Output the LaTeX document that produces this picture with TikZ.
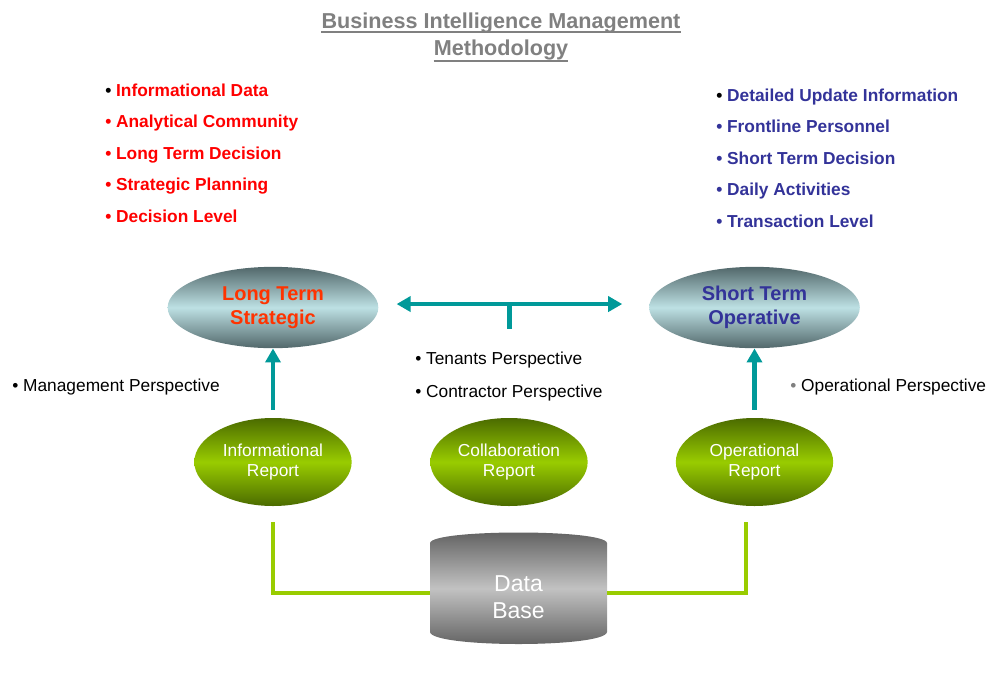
\documentclass[tikz,border=0pt]{standalone}
\usepackage{fontspec}
\setmainfont{Liberation Sans}
\usetikzlibrary{arrows.meta,shapes.geometric}
\definecolor{titlegray}{HTML}{808080}
\definecolor{stratred}{HTML}{FF0000}
\definecolor{goalred}{HTML}{FF3300}
\definecolor{opblue}{HTML}{333399}
\definecolor{linkteal}{HTML}{009999}
\definecolor{linkgreen}{HTML}{99CC00}
\definecolor{goaldark}{HTML}{52686B}
\definecolor{goallight}{HTML}{BDE0E3}
\definecolor{repdark}{HTML}{4B6B00}
\definecolor{replight}{HTML}{99CC00}
\definecolor{dbdark}{HTML}{5E5E5E}
\definecolor{dblight}{HTML}{C2C2C2}
\tikzset{tealtip/.tip={Triangle[length=10.5pt,width=11.25pt]}}
\begin{document}
\begin{tikzpicture}[x=0.75pt,y=-0.75pt,
  every node/.style={inner sep=0pt},
  heading/.style={font=\bfseries\fontsize{16.2}{19}\selectfont,text=titlegray,anchor=base},
  facts/.style={font=\bfseries\fontsize{13}{15}\selectfont,anchor=base west},
  persp/.style={font=\fontsize{13}{15}\selectfont,anchor=base west},
  goal/.style={ellipse,minimum width=158pt,minimum height=61pt,top color=goaldark,bottom color=goaldark,middle color=goallight,align=center,font=\bfseries\fontsize{15}{17.6}\selectfont},
  report/.style={ellipse,minimum width=118pt,minimum height=66pt,top color=repdark,bottom color=repdark,middle color=replight,align=center,text=white,font=\fontsize{13}{14.6}\selectfont},
  tealarrow/.style={draw=linkteal,line width=3.4pt,-tealtip},
  greenlink/.style={draw=linkgreen,line width=3.6pt}]
  \useasboundingbox (0,0) rectangle (993,697);
  % title
  \node[heading] (title1) at (501,28.5) {Business Intelligence Management};
  \node[heading] (title2) at (501,55) {Methodology};
  \draw[titlegray,line width=1.1pt] ([yshift=-2.6pt]title1.base west) -- ([yshift=-2.6pt]title1.base east);
  \draw[titlegray,line width=1.1pt] ([yshift=-4.5pt]title2.base west) -- ([yshift=-4.5pt]title2.base east);
  % strategic facts
  \node[facts,text=stratred] (fact1) at (105,96) {\textcolor{black}{\textbullet} Informational Data};
  \foreach \txt [count=\i from 2] in {Analytical Community,Long Term Decision,Strategic Planning,Decision Level}
    \node[facts,text=stratred] (fact\i) at (105,{96+31.5*(\i-1)}) {\textbullet\ \txt};
  % operative facts
  \node[facts,text=opblue] (opfact1) at (716,101) {\textcolor{black}{\textbullet} Detailed Update Information};
  \foreach \txt [count=\i from 2] in {Frontline Personnel,Short Term Decision,Daily Activities,Transaction Level}
    \node[facts,text=opblue] (opfact\i) at (716,{101+31.5*(\i-1)}) {\textbullet\ \txt};
  % goals
  \node[goal,text=goalred] (lts) at (273,307.5) {Long Term\\Strategic};
  \node[goal,text=opblue] (sto) at (754.5,307.5) {Short Term\\Operative};
  % perspectives
  \node[persp] (mgmt) at (12,391) {\textbullet\ Management Perspective};
  \node[persp] (tenant) at (415,364) {\textbullet\ Tenants Perspective};
  \node[persp] (contr) at (415,397) {\textbullet\ Contractor Perspective};
  \node[persp] (oper) at (790,391) {\textcolor{titlegray}{\textbullet} Operational Perspective};
  % reports
  \node[report] (irep) at (273,462) {Informational\\Report};
  \node[report] (crep) at (509,462) {Collaboration\\Report};
  \node[report] (orep) at (754.5,462) {Operational\\Report};
  % data base
  \shade[top color=dbdark,bottom color=dbdark,middle color=dblight]
    (430,543) .. controls (432,529) and (605,529) .. (607,543) -- (607,632)
    .. controls (605,648) and (432,648) .. (430,632) -- cycle;
  \node[font=\fontsize{17.25}{20.5}\selectfont,text=white,align=center,minimum width=132.75pt] (db) at (518.5,597) {Data\\Base};
  % links
  \draw[tealarrow,shorten <=6pt] (irep.north) -- (lts.south);
  \draw[tealarrow,shorten <=6pt] (orep.north) -- (sto.south);
  \draw[tealarrow,tealtip-tealtip] ([shift={(13.5pt,2.6pt)}]lts.east) -- coordinate[midway] (fork) ([shift={(-20pt,2.6pt)}]sto.west);
  \coordinate (stemfoot) at (509,329);
  \draw[draw=linkteal,line width=3.4pt] (fork) -- (fork |- stemfoot);
  \draw[greenlink] ([yshift=-12pt]irep.south) |- ([yshift=3pt]db.west);
  \draw[greenlink] ([shift={(-6.4pt,-12pt)}]orep.south) |- ([yshift=3pt]db.east);
\end{tikzpicture}
\end{document}
